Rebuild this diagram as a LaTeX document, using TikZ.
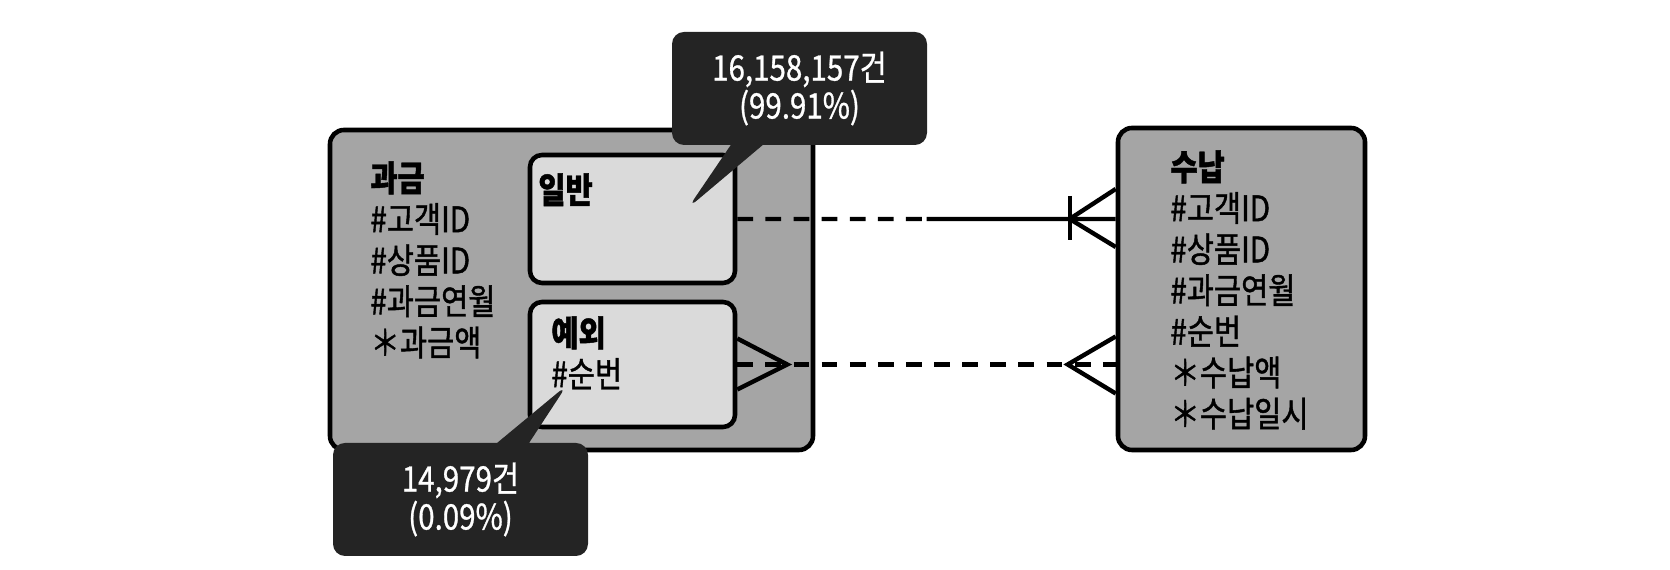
\documentclass[tikz,border=0pt]{standalone}
\usepackage{fontspec}
\setmainfont{Noto Sans CJK KR}[FakeStretch=0.84]
\usetikzlibrary{positioning}
\usetikzlibrary{shapes.callouts}
\usetikzlibrary{calc}
\definecolor{entgray}{RGB}{165,165,165}
\definecolor{subgray}{RGB}{218,218,218}
\definecolor{notedark}{RGB}{36,36,36}
\tikzset{
    entity/.style = {rectangle, rounded corners=0.14cm, line width=1.3pt, draw=black, fill=entgray},
    subtype/.style = {rectangle, rounded corners=0.12cm, line width=1.3pt, draw=black, fill=subgray, minimum width=2.05cm},
    attr/.style = {inner sep=0pt, align=left, font=\fontsize{10}{11.7}\selectfont\addfontfeature{FakeBold=1.2}},
    note/.style = {rectangle callout, rounded corners=0.12cm, fill=notedark, text=white, align=center, minimum width=2.55cm, minimum height=1.13cm, callout pointer width=0.32cm, font=\fontsize{10}{10.8}\selectfont\addfontfeature{FakeBold=0.8}},
    rel/.style = {line width=1.25pt},
    relopt/.style = {rel, dash pattern=on 4.5pt off 3.5pt}, % optional side
}

\begin{document}
\begin{tikzpicture}
  \useasboundingbox (0,0) rectangle (16.70,-5.70);

  % entities
  \node[entity, minimum width=4.83cm, minimum height=3.2cm] (gwa) at (5.715,-2.90) {};
  \node[attr, below right=0.33cm and 0.42cm of gwa.north west] (gwaText)
    {\textbf{과금}\\\#고객ID\\\#상품ID\\\#과금연월\\＊과금액};
  \node[subtype, minimum height=1.28cm] (ilban) at (6.325,-2.19) {};
  \node[attr, below right=0.20cm and 0.10cm of ilban.north west] (ilbanText) {\textbf{일반}};
  \node[subtype, minimum height=1.25cm] (yesoe) at (6.325,-3.645) {};
  \node[attr, below right=0.16cm and 0.23cm of yesoe.north west] (yesoeText) {\textbf{예외}\\\#순번};

  \node[entity, minimum width=2.47cm, minimum height=3.22cm] (sunap) at (12.415,-2.89) {};
  \node[attr, below right=0.24cm and 0.54cm of sunap.north west] (sunapText)
    {\textbf{수납}\\\#고객ID\\\#상품ID\\\#과금연월\\\#순번\\＊수납액\\＊수납일시};

  % ilban -- sunap
  \coordinate (midA) at ($(ilban.east)!0.5!(ilban.east -| sunap.west)$);
  \draw[relopt] (ilban.east) -- (midA);
  \draw[rel] (midA) -- (ilban.east -| sunap.west);
  \coordinate (footA) at ($(ilban.east -| sunap.west)+(-0.46,0)$);
  \draw[rel] ($(footA)+(0,0.23)$) -- ($(footA)+(0,-0.21)$);
  \draw[rel] ($(sunap.west |- footA)+(0,0.30)$) -- (footA) -- ($(sunap.west |- footA)+(0,-0.28)$);

  % yesoe -- sunap
  \draw[relopt] (yesoe.east) -- (yesoe.east -| sunap.west);
  \coordinate (footB) at ($(yesoe.east)+(0.50,0)$);
  \draw[rel] ($(yesoe.east)+(0,0.26)$) -- (footB) -- ($(yesoe.east)+(0,-0.25)$);
  \coordinate (footC) at ($(yesoe.east -| sunap.west)+(-0.48,0)$);
  \draw[rel] ($(sunap.west |- footC)+(0,0.28)$) -- (footC) -- ($(sunap.west |- footC)+(0,-0.29)$);

  % counts
  \coordinate (tipA) at (6.88,-2.08);
  \node[note, callout absolute pointer={(tipA)}] (noteA) at (7.995,-0.885) {16,158,157건\\(99.91\%)};
  \coordinate (tipB) at (5.67,-3.85);
  \node[note, callout absolute pointer={(tipB)}] (noteB) at (4.605,-4.995) {14,979건\\(0.09\%)};
\end{tikzpicture}
\end{document}
